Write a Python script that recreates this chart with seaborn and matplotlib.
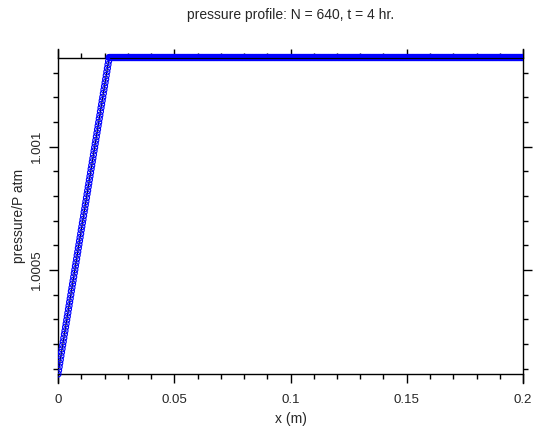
import numpy as np
import pandas as pd
import matplotlib
matplotlib.use("Agg")
import matplotlib.pyplot as plt
import matplotlib.ticker as mticker
import seaborn as sns

# Datos del perfil de presion (N = 640, t = 4 h)
dx = 0.00025
n_puntos = 801
# rampa inicial, en unidades de 1e-6 atm por encima de 1 atm
rampa_ppm = [78, 93, 107, 122, 136, 151, 166, 180, 195, 209, 224, 239, 253, 268,
             282, 297, 311, 326, 341, 355, 370, 384, 399, 414, 428, 443, 457, 472,
             487, 501, 516, 530, 545, 560, 574, 589, 603, 618, 632, 647, 662, 676,
             691, 705, 720, 735, 749, 764, 778, 793, 808, 822, 837, 851, 866, 880,
             895, 910, 924, 939, 953, 968, 983, 997, 1012, 1026, 1041, 1056, 1070,
             1085, 1099, 1114, 1128, 1143, 1158, 1172, 1187, 1201, 1216, 1231, 1245,
             1260, 1274, 1289, 1304, 1318, 1333, 1347, 1362]
meseta_ppm = 1362

x_ticks = [0, 0.05, 0.1, 0.15, 0.2]
x_labels = ['0', '0.05', '0.1', '0.15', '0.2']
y_ticks = [1.0005, 1.001]
y_labels = ['1.0005', '1.001']

x = np.arange(n_puntos) * dx
p_ppm = rampa_ppm + [meseta_ppm] * (n_puntos - len(rampa_ppm))
df = pd.DataFrame({'x': x, 'p': 1 + np.array(p_ppm) * 1e-6})

sns.set_style("ticks")
plt.rcParams['font.family'] = ['Liberation Sans', 'DejaVu Sans']

fig = plt.figure(figsize=(5.34, 4.34), dpi=100)
ax = fig.add_axes([58 / 534, 1 - 383 / 434, 465 / 534, 334 / 434])

sns.lineplot(data=df, x='x', y='p', ax=ax, color='black', linewidth=0.8,
             zorder=2, estimator=None)
sns.scatterplot(data=df, x='x', y='p', ax=ax, marker='o', s=19,
                facecolors='none', edgecolor='#0000ff', linewidth=0.8, zorder=3)
# linea negra visible sobre la meseta
ax.plot(df['x'][len(rampa_ppm):], df['p'][len(rampa_ppm):], color='black',
        linewidth=0.8, zorder=4)

pmin, pmax = df['p'].min(), df['p'].max()
ax.set_xlim(0, 0.2)
ax.set_ylim(pmin - 3.65e-5, pmax + 3.45e-5)
ax.spines['bottom'].set_position(('data', pmin))
ax.spines['top'].set_position(('data', pmax))
for s in ax.spines.values():
    s.set_linewidth(1.0)
    s.set_color('black')

ax.xaxis.set_major_locator(mticker.FixedLocator(x_ticks))
ax.xaxis.set_major_formatter(mticker.FixedFormatter(x_labels))
ax.xaxis.set_minor_locator(mticker.MultipleLocator(0.01))
ax.yaxis.set_major_locator(mticker.FixedLocator(y_ticks))
ax.yaxis.set_major_formatter(mticker.FixedFormatter(y_labels))
ax.yaxis.set_minor_locator(mticker.MultipleLocator(0.0001))

ax.tick_params(which='both', direction='out', top=True, right=True,
               labeltop=False, labelright=False, color='black', width=1.0)
ax.tick_params(which='major', length=6.5, labelsize=9.5)
ax.tick_params(axis='x', which='major', pad=8)
ax.tick_params(axis='y', which='major', pad=4)
ax.tick_params(which='minor', length=3.5)
for lab in ax.get_yticklabels():
    lab.set_rotation(90)
    lab.set_va('center')

ax.set_xlabel('x (m)', fontsize=10, labelpad=4)
ax.set_ylabel('pressure/P atm', fontsize=10, labelpad=4)
fig.text(291 / 534, 1 - 15 / 434, 'pressure profile: N = 640, t = 4 hr.',
         ha='center', va='center', fontsize=10)

fig.savefig('out.png', dpi=100)
